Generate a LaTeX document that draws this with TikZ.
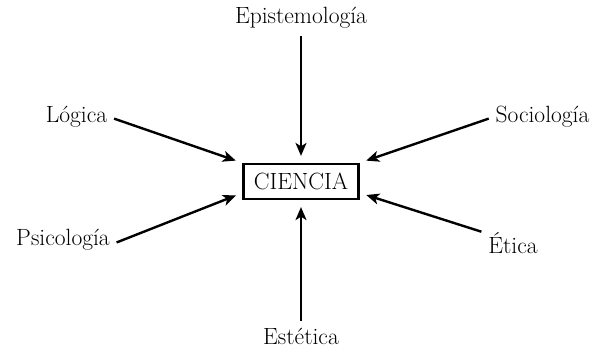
\documentclass[tikz,border=0pt]{standalone}
\usetikzlibrary{arrows.meta}
\begin{document}
\begin{tikzpicture}[x=1pt,y=-1pt,
  lbl/.style={font=\fontsize{23.5}{28}\selectfont, inner sep=2pt},
  arr/.style={line width=2.4pt, -{Stealth[length=13pt,width=11pt,inset=3.5pt]}, shorten <=5pt, shorten >=7pt},
  box/.style={draw, line width=2.2pt, minimum width=115pt, minimum height=35pt, inner sep=0pt, font=\fontsize{23.5}{28}\selectfont}]
\useasboundingbox (0,0) rectangle (596,352);
\node[box] (c) at (301,181.5) {CIENCIA};
\node[lbl] (epi) at (301,18) {Epistemología};
\node[lbl] (log) at (76.5,117) {Lógica};
\node[lbl] (psi) at (63,240) {Psicología};
\node[lbl] (soc) at (542.5,117) {Sociología};
\node[lbl] (eti) at (513,243) {Ética};
\node[lbl] (est) at (301,336) {Estética};
\draw[arr] (epi.south) -- (c.north);
\draw[arr] (est.north) -- (c.south);
\draw[arr] (log.east) -- (c.north west);
\draw[arr] (psi.-5) -- (c.191);
\draw[arr] (soc.west) -- (c.north east);
\draw[arr] (eti.160) -- (c.-11);
\end{tikzpicture}
\end{document}
